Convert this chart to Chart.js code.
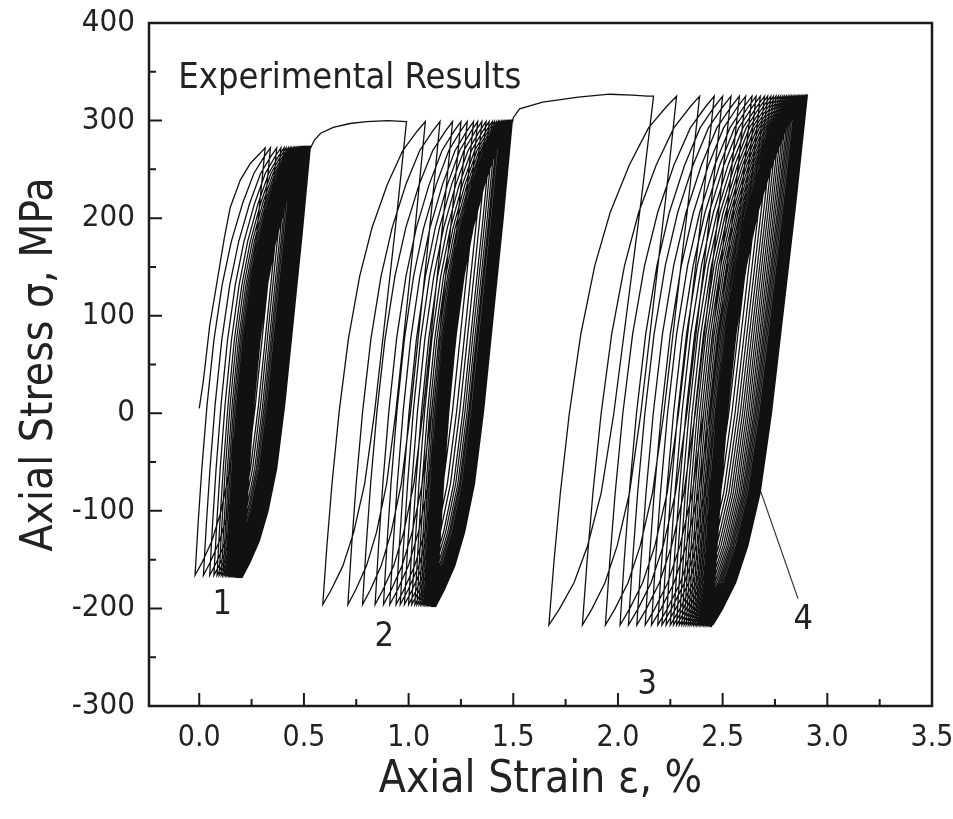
<!DOCTYPE html>
<html>
<head>
<meta charset="utf-8">
<script src="https://cdn.jsdelivr.net/npm/chart.js@4.4.0/dist/chart.umd.min.js"></script>
<style>
  html, body { margin: 0; padding: 0; background: #fff; }
</style>
</head>
<body>
<canvas id="chart" width="953" height="819"></canvas>
<script>
// ==============================
// Data
// ==============================

// monotonic first loading
const initStrain = [0.0, 0.02, 0.05, 0.086, 0.12, 0.148, 0.196, 0.244, 0.315];
const initStress = [5, 34, 90, 136, 180, 211, 239, 256, 272];

// stage 1 (peak / valley strain of every cycle, %)
const s1Peaks = [0.315, 0.34, 0.37, 0.39, 0.405, 0.415, 0.425, 0.433, 0.44, 0.447, 0.453, 0.459, 0.464, 0.469, 0.473, 0.477, 0.481, 0.484, 0.487, 0.49, 0.493, 0.496, 0.498, 0.5, 0.502, 0.504, 0.506, 0.508, 0.51, 0.512, 0.514, 0.516, 0.518, 0.52, 0.522, 0.524, 0.526, 0.528, 0.53, 0.532];
const s1Valleys = [-0.02, 0.02, 0.05, 0.07, 0.085, 0.095, 0.105, 0.113, 0.12, 0.127, 0.133, 0.139, 0.144, 0.149, 0.153, 0.157, 0.161, 0.164, 0.167, 0.17, 0.173, 0.176, 0.178, 0.18, 0.182, 0.184, 0.186, 0.188, 0.19, 0.192, 0.194, 0.196, 0.198, 0.2, 0.202, 0.204, 0.206, 0.208, 0.21];

// transition 1 -> 2
const env12Strain = [0.532, 0.55, 0.58, 0.64, 0.72, 0.8, 0.9, 0.99];
const env12Stress = [272, 280, 287, 293, 297, 299, 300, 299];

// stage 2
const s2Peaks = [0.99, 1.08, 1.15, 1.21, 1.25, 1.28, 1.31, 1.33, 1.35, 1.37, 1.385, 1.4, 1.41, 1.42, 1.428, 1.434, 1.441, 1.446, 1.452, 1.456, 1.461, 1.465, 1.468, 1.472, 1.475, 1.478, 1.481, 1.484, 1.487, 1.489, 1.491, 1.493, 1.495, 1.497];
const s2Valleys = [0.59, 0.71, 0.78, 0.84, 0.88, 0.91, 0.94, 0.96, 0.98, 1.0, 1.015, 1.03, 1.04, 1.05, 1.058, 1.065, 1.072, 1.078, 1.084, 1.089, 1.094, 1.098, 1.102, 1.106, 1.11, 1.113, 1.116, 1.119, 1.122, 1.125, 1.128, 1.131, 1.134];

// transition 2 -> 3
const env23Strain = [1.497, 1.5, 1.53, 1.64, 1.81, 1.96, 2.07, 2.14, 2.17];
const env23Stress = [299, 303, 312, 319, 324, 327, 326, 325, 325];

// stage 3
const s3Peaks = [2.17, 2.28, 2.39, 2.46, 2.5, 2.54, 2.58, 2.61, 2.64, 2.66, 2.68, 2.7, 2.715, 2.73, 2.743, 2.755, 2.766, 2.776, 2.786, 2.795, 2.804, 2.812, 2.82, 2.827, 2.834, 2.841, 2.848, 2.854, 2.86, 2.866, 2.872, 2.877, 2.882, 2.887, 2.892, 2.896, 2.9, 2.904];
const s3Valleys = [1.67, 1.83, 1.94, 2.01, 2.05, 2.09, 2.13, 2.16, 2.19, 2.21, 2.23, 2.25, 2.265, 2.28, 2.293, 2.305, 2.316, 2.326, 2.336, 2.345, 2.354, 2.362, 2.37, 2.377, 2.384, 2.391, 2.398, 2.404, 2.41, 2.416, 2.422, 2.427, 2.432, 2.437, 2.442, 2.446, 2.45, 2.454];

// stress limits of the three stages, MPa
const stageMaxStress = [272, 299, 325];
const stageMinStress = [-166, -196, -217];

// branch shapes read from the first loop of stage 3
// (stress level 0..1 between valley and peak, strain fraction of the branch)
const unloadLevel = [1, 0.8, 0.6, 0.4, 0.25, 0.15, 0.08, 0.03, 0];
const unloadFrac = [0, 0.12, 0.25, 0.38, 0.5, 0.63, 0.76, 0.9, 1];
const loadLevel = [0, 0.12, 0.25, 0.4, 0.55, 0.68, 0.78, 0.87, 0.94, 0.98, 1];
const loadFrac = [0, 0.04, 0.09, 0.16, 0.25, 0.36, 0.48, 0.63, 0.78, 0.92, 1];

// pointer for label 4
const leaderStrain = [2.86, 2.68];
const leaderStress = [-190, -79];

// labels
const curveLabels = ["1", "2", "3", "4"];
const labelStrain = [0.11, 0.883, 2.14, 2.885];
const labelStress = [-197, -229, -279, -212];

// axes
const xTickLabels = [0, 0.5, 1.0, 1.5, 2.0, 2.5, 3.0, 3.5];
const xMinorTicks = [0.25, 0.75, 1.25, 1.75, 2.25, 2.75, 3.25];
const yTickLabels = [-300, -200, -100, 0, 100, 200, 300, 400];
const yMinorTicks = [-250, -150, -50, 50, 150, 250, 350];

// ==============================
// Build the curve
// ==============================

function addPairs(pts, xs, ys) {
    for (let i = 0; i < xs.length; i++) pts.push({ x: xs[i], y: ys[i] });
}

function addStage(pts, peaks, valleys, sMax, sMin) {
    const range = sMax - sMin;
    for (let i = 0; i < valleys.length; i++) {
        // unloading peak -> valley
        for (let k = 0; k < unloadLevel.length; k++) {
            pts.push({
                x: peaks[i] - unloadFrac[k] * (peaks[i] - valleys[i]),
                y: sMin + unloadLevel[k] * range
            });
        }
        // reloading valley -> next peak
        if (i + 1 < peaks.length) {
            for (let k = 1; k < loadLevel.length; k++) {
                pts.push({
                    x: valleys[i] + loadFrac[k] * (peaks[i + 1] - valleys[i]),
                    y: sMin + loadLevel[k] * range
                });
            }
        }
    }
}

const curve = [];
addPairs(curve, initStrain, initStress);
addStage(curve, s1Peaks, s1Valleys, stageMaxStress[0], stageMinStress[0]);
addPairs(curve, env12Strain, env12Stress);
addStage(curve, s2Peaks, s2Valleys, stageMaxStress[1], stageMinStress[1]);
addPairs(curve, env23Strain, env23Stress);
addStage(curve, s3Peaks, s3Valleys, stageMaxStress[2], stageMinStress[2]);

const leader = [];
addPairs(leader, leaderStrain, leaderStress);

// ==============================
// Frame, inward ticks and text
// ==============================

const narrow = "'Liberation Sans Narrow', 'DejaVu Sans Condensed', 'Liberation Sans', sans-serif";

const decor = {
    id: "decor",
    afterDatasetsDraw(chart) {
        const { ctx, chartArea: a, scales: { x, y } } = chart;
        ctx.save();
        ctx.strokeStyle = "#1a1a1a";
        ctx.lineWidth = 2.5;
        ctx.strokeRect(a.left, a.top, a.right - a.left, a.bottom - a.top);

        ctx.lineWidth = 2;
        ctx.beginPath();
        xTickLabels.forEach(v => {
            const px = x.getPixelForValue(v);
            ctx.moveTo(px, a.bottom);
            ctx.lineTo(px, a.bottom - 13);
        });
        xMinorTicks.forEach(v => {
            const px = x.getPixelForValue(v);
            ctx.moveTo(px, a.bottom);
            ctx.lineTo(px, a.bottom - 7);
        });
        yTickLabels.forEach(v => {
            const py = y.getPixelForValue(v);
            ctx.moveTo(a.left, py);
            ctx.lineTo(a.left + 13, py);
        });
        yMinorTicks.forEach(v => {
            const py = y.getPixelForValue(v);
            ctx.moveTo(a.left, py);
            ctx.lineTo(a.left + 7, py);
        });
        ctx.stroke();

        ctx.fillStyle = "#222";
        ctx.textAlign = "center";
        ctx.textBaseline = "middle";
        ctx.font = "34px " + narrow;
        curveLabels.forEach((t, i) => {
            ctx.fillText(t, x.getPixelForValue(labelStrain[i]), y.getPixelForValue(labelStress[i]));
        });

        ctx.textAlign = "left";
        ctx.font = "36px " + narrow;
        ctx.fillText("Experimental Results", x.getPixelForValue(-0.1), y.getPixelForValue(343));
        ctx.restore();
    }
};

// ==============================
// Chart
// ==============================

new Chart(document.getElementById("chart"), {
    type: "scatter",
    data: {
        datasets: [
            {
                label: "Experimental Results",
                data: curve,
                showLine: true,
                borderColor: "#111",
                borderWidth: 1.3,
                pointRadius: 0,
                tension: 0
            },
            {
                label: "pointer 4",
                data: leader,
                showLine: true,
                borderColor: "#333",
                borderWidth: 1.2,
                pointRadius: 0
            }
        ]
    },
    options: {
        responsive: false,
        animation: false,
        layout: { padding: { top: 23, right: 21, left: 0, bottom: 0 } },
        plugins: {
            legend: { display: false },
            tooltip: { enabled: false }
        },
        scales: {
            x: {
                type: "linear",
                min: -0.24,
                max: 3.5,
                afterBuildTicks: s => { s.ticks = xTickLabels.map(v => ({ value: v })); },
                afterFit: s => {
                    s.height = 113;
                    s.paddingLeft = 0;
                    s.paddingRight = 0;
                },
                grid: { display: false, drawTicks: false },
                border: { display: false },
                ticks: {
                    padding: 14,
                    color: "#222",
                    font: { family: narrow, size: 30 },
                    callback: v => v.toFixed(1)
                },
                title: {
                    display: true,
                    text: "Axial Strain ε, %",
                    color: "#222",
                    font: { family: narrow, size: 44 },
                    padding: { top: 0, bottom: 12 }
                }
            },
            y: {
                type: "linear",
                min: -300,
                max: 400,
                afterBuildTicks: s => { s.ticks = yTickLabels.map(v => ({ value: v })); },
                afterFit: s => {
                    s.width = 149;
                    s.paddingTop = 0;
                    s.paddingBottom = 0;
                },
                grid: { display: false, drawTicks: false },
                border: { display: false },
                ticks: {
                    padding: 14,
                    color: "#222",
                    font: { family: narrow, size: 31 }
                },
                title: {
                    display: true,
                    text: "Axial Stress σ, MPa",
                    color: "#222",
                    font: { family: narrow, size: 44 },
                    padding: { top: 14, bottom: 0 }
                }
            }
        }
    },
    plugins: [decor]
});
</script>
</body>
</html>
